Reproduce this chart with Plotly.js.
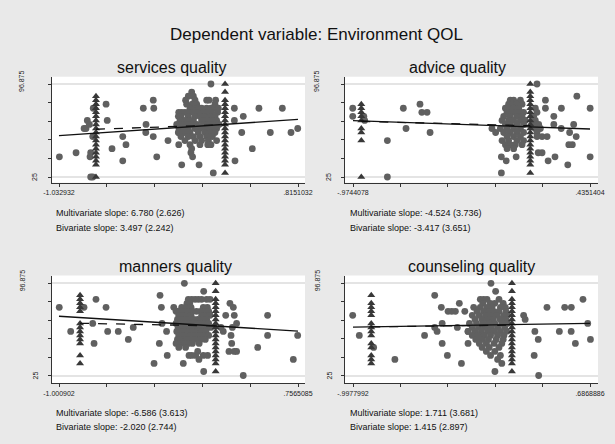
<!DOCTYPE html>
<html><head><meta charset="utf-8">
<script src="https://cdn.plot.ly/plotly-3.0.1.min.js"></script>
<style>html,body{margin:0;padding:0;background:#e9e9e9}</style>
</head><body><div id="chart" style="width:615px;height:444px"></div>
<script>
// ---------------- text ----------------
const mainTitle = 'Dependent variable: Environment QOL';
const panelTitles = ['services quality', 'advice quality', 'manners quality', 'counseling quality'];
const xTickLabels = [['-1.032932', '.8151032'], ['-.9744078', '.4351404'], ['-1.000902', '.7565085'], ['-.9977992', '.6868886']];
const yTickLabels = ['25', '96.875'];
const multiSlopeText = ['Multivariate slope: 6.780 (2.626)', 'Multivariate slope: -4.524 (3.736)', 'Multivariate slope: -6.586 (3.613)', 'Multivariate slope: 1.711 (3.681)'];
const biSlopeText = ['Bivariate slope: 3.497 (2.242)', 'Bivariate slope: -3.417 (3.651)', 'Bivariate slope: -2.020 (2.744)', 'Bivariate slope: 1.415 (2.897)'];

// ---------------- services quality ----------------
const servicesCircX = [-1.030,-0.901,-0.793,-0.788,-0.839,-0.824,-0.814,-0.798,-0.768,-0.772,-0.788,-0.772,-0.669,-0.660,-0.623,-0.540,-0.515,-0.540,-0.381,-0.360,-0.362,-0.304,-0.300,-0.304,-0.277,-0.190,-0.107,-0.107,-0.107,-0.084,0.050,-0.013,0.000,0.160,0.142,0.323,0.392,0.323,0.380,0.328,0.462,0.513,0.601,0.694,0.761,0.813,
  -0.007,
  -0.033,0.006,
  -0.054,0.019,0.109,0.127,0.178,
  -0.046,-0.002,0.032,0.173,
  -0.020,0.024,0.044,0.070,0.109,0.142,0.168,0.199,
  -0.084,-0.059,-0.033,0.006,0.044,0.083,0.122,0.147,0.194,
  -0.110,-0.090,-0.033,0.019,0.057,0.096,0.135,0.173,
  -0.097,-0.059,-0.020,0.006,0.070,0.109,0.147,0.186,
  -0.123,-0.084,-0.046,-0.007,0.032,0.083,0.122,0.160,0.204,
  -0.105,-0.072,-0.033,0.019,0.057,0.101,0.142,0.186,
  -0.110,-0.064,-0.020,0.044,0.096,0.135,0.173,
  -0.090,-0.033,0.006,0.057,0.109,0.153,
  -0.059,0.019,0.070,0.122,0.186,
  -0.020,0.057,0.117,0.142,
  -0.007];
const servicesCircY = [40.625,43.75,40.625,43.75,62.5,62.5,68.75,65.625,78.125,56.25,25,25,81.25,68.75,46.875,56.25,50,37.5,78.125,65.625,59.375,84.375,78.125,56.25,40.625,53.125,75,59.375,50,34.375,34.375,43.75,40.625,28.125,96.875,78.125,71.875,68.75,59.375,37.5,46.875,78.125,59.375,78.125,59.375,62.5,
  90.625,
  87.5,87.5,
  84.375,84.375,84.375,84.375,84.375,
  81.25,81.25,81.25,81.25,
  78.125,78.125,78.125,78.125,78.125,78.125,78.125,78.125,
  75,75,75,75,75,75,75,75,75,
  71.875,71.875,71.875,71.875,71.875,71.875,71.875,71.875,
  68.75,68.75,68.75,68.75,68.75,68.75,68.75,68.75,
  65.625,65.625,65.625,65.625,65.625,65.625,65.625,65.625,65.625,
  62.5,62.5,62.5,62.5,62.5,62.5,62.5,62.5,
  59.375,59.375,59.375,59.375,59.375,59.375,59.375,
  56.25,56.25,56.25,56.25,56.25,56.25,
  53.125,53.125,53.125,53.125,53.125,
  50,50,50,50,
  46.875];
const servicesTriX = [-0.747,-0.747,-0.747,-0.747,-0.747,-0.747,-0.747,-0.747,-0.747,-0.747,-0.747,-0.747,-0.747,-0.747,-0.747,-0.747,-0.747,-0.747,-0.747,
  0.251,0.251,0.251,0.251,0.251,0.251,0.251,0.251,0.251,0.251,0.251,0.251,0.251,0.251,0.251,0.251,0.251,0.251,0.251,0.251];
const servicesTriY = [87.5,84.375,81.25,78.125,75,71.875,68.75,65.625,62.5,59.375,56.25,53.125,50,46.875,43.75,40.625,37.5,34.375,25,
  96.875,90.625,84.375,81.25,78.125,75,71.875,68.75,65.625,62.5,59.375,56.25,53.125,50,46.875,43.75,40.625,37.5,34.375,28.125];
const servicesMultiX = [-1.032932, 0.8151032];
const servicesMultiY = [57.0, 69.5];
const servicesBiX = [-0.747, 0.251];
const servicesBiY = [61.9, 65.4];

// ---------------- advice quality ----------------
const adviceCircX = [-0.976,-0.976,-0.910,-0.905,-0.770,-0.770,-0.675,-0.659,-0.576,-0.565,-0.534,-0.516,0.120,-0.092,-0.063,-0.004,-0.092,-0.148,-0.126,0.170,0.170,0.265,0.357,0.436,0.220,0.220,0.180,0.127,0.150,0.186,0.227,0.264,0.314,0.338,0.353,0.309,0.330,0.303,0.436,
  -0.039,-0.019,0.021,
  -0.049,-0.029,0.001,0.031,
  -0.068,-0.049,-0.019,0.011,0.110,
  -0.058,-0.029,-0.009,0.021,0.040,0.120,
  -0.078,-0.039,0.001,0.031,0.100,
  -0.088,-0.049,-0.019,0.021,0.050,0.110,
  -0.068,-0.039,0.001,0.040,0.100,0.130,
  -0.098,-0.058,-0.019,0.021,0.110,0.140,
  -0.078,-0.039,0.001,0.040,0.120,
  -0.058,-0.019,0.021,0.120,0.150,
  -0.088,-0.049,0.001,0.040,
  -0.068,-0.039,-0.009,0.031,
  -0.058,-0.019];
const adviceCircY = [78.125,71.875,71.875,68.75,53.125,25,78.125,62.5,81.25,75,75,59.375,96.875,40.625,37.5,40.625,28.125,62.5,59.375,84.375,78.125,78.125,87.5,78.125,71.875,65.625,56.25,43.75,43.75,37.5,40.625,62.5,59.375,65.625,56.25,50,50,34.375,40.625,
  84.375,84.375,84.375,
  81.25,81.25,81.25,81.25,
  78.125,78.125,78.125,78.125,78.125,
  75,75,75,75,75,75,
  71.875,71.875,71.875,71.875,71.875,
  68.75,68.75,68.75,68.75,68.75,68.75,
  65.625,65.625,65.625,65.625,65.625,65.625,
  62.5,62.5,62.5,62.5,62.5,62.5,
  59.375,59.375,59.375,59.375,59.375,
  56.25,56.25,56.25,56.25,56.25,
  53.125,53.125,53.125,53.125,
  50,50,50,50,
  46.875,46.875];
const adviceTriX = [-0.925,-0.925,-0.925,-0.925,-0.925,-0.925,-0.925,-0.925,-0.925,
  0.080,0.080,0.080,0.080,0.080,0.080,0.080,0.080,0.080,0.080,0.080,0.080,0.080,0.080,0.080,0.080,0.080,0.080,0.080,0.080,0.080];
const adviceTriY = [81.25,78.125,75,71.875,68.75,62.5,59.375,53.125,25,
  96.875,90.625,87.5,84.375,81.25,78.125,75,71.875,68.75,65.625,62.5,59.375,56.25,53.125,50,46.875,43.75,40.625,37.5,34.375,28.125];
const adviceMultiX = [-0.9744078, 0.4351404];
const adviceMultiY = [68.5, 62.1];
const adviceBiX = [-0.925, 0.080];
const adviceBiY = [68.0, 64.6];

// ---------------- manners quality ----------------
const mannersCircX = [-0.999,-0.915,-0.817,-0.753,-0.743,-0.729,-0.655,-0.643,-0.565,-0.491,-0.455,-0.302,-0.258,-0.248,-0.243,-0.263,-0.210,-0.205,-0.157,-0.131,-0.111,-0.079,0.063,0.063,0.354,-0.087,0.190,0.207,0.225,0.256,0.281,0.288,0.264,0.269,0.249,0.288,0.305,0.274,0.305,0.460,0.533,0.533,0.722,0.754,-0.045,-0.025,0.004,0.019,0.028,0.060,0.092,
  -0.050,-0.025,0.000,0.024,0.048,0.085,0.110,
  -0.060,-0.040,
  -0.099,-0.070,-0.050,-0.030,0.060,0.090,
  -0.140,-0.110,-0.080,-0.050,-0.020,0.010,0.040,0.070,0.100,
  -0.120,-0.090,-0.060,-0.030,0.048,0.080,0.110,
  -0.130,-0.100,-0.070,-0.040,-0.010,0.020,0.050,0.085,
  -0.140,-0.110,-0.080,-0.050,-0.020,0.010,0.040,0.070,0.100,
  -0.125,-0.095,-0.065,-0.035,-0.005,0.025,0.055,0.090,0.115,
  -0.135,-0.105,-0.075,-0.045,-0.015,0.015,0.045,0.080,
  -0.120,-0.090,-0.060,-0.030,0.000,0.035,0.070,0.100,
  -0.130,-0.095,-0.065,-0.035,0.000,0.040,0.075,
  -0.140,-0.110,-0.080,-0.050,-0.020,0.030,
  -0.120,-0.070];
const mannersCircY = [78.125,59.375,78.125,65.625,50,84.375,78.125,59.375,59.375,53.125,62.5,34.375,87.5,78.125,65.625,50,59.375,40.625,78.125,75,50,96.875,90.625,28.125,25,34.375,62.5,59.375,71.875,81.25,78.125,71.875,56.25,50,43.75,43.75,43.75,62.5,65.625,46.875,71.875,56.25,37.5,56.25,40.625,40.625,40.625,43.75,37.5,40.625,40.625,
  84.375,84.375,84.375,84.375,84.375,84.375,84.375,
  81.25,81.25,
  78.125,78.125,78.125,78.125,78.125,78.125,
  75,75,75,75,75,75,75,75,75,
  71.875,71.875,71.875,71.875,71.875,71.875,71.875,
  68.75,68.75,68.75,68.75,68.75,68.75,68.75,68.75,
  65.625,65.625,65.625,65.625,65.625,65.625,65.625,65.625,65.625,
  62.5,62.5,62.5,62.5,62.5,62.5,62.5,62.5,62.5,
  59.375,59.375,59.375,59.375,59.375,59.375,59.375,59.375,
  56.25,56.25,56.25,56.25,56.25,56.25,56.25,56.25,
  53.125,53.125,53.125,53.125,53.125,53.125,53.125,
  50,50,50,50,50,50,
  46.875,46.875];
const mannersTriX = [-0.846,-0.846,-0.846,-0.846,-0.846,-0.846,-0.846,-0.846,-0.846,-0.846,-0.846,-0.846,-0.846,
  0.151,0.151,0.151,0.151,0.151,0.151,0.151,0.151,0.151,0.151,0.151,0.151,0.151,0.151,0.151,0.151,0.151,0.151,0.151,0.151];
const mannersTriY = [87.5,84.375,81.25,78.125,75,65.625,62.5,59.375,56.25,53.125,50,40.625,34.375,
  96.875,90.625,84.375,81.25,78.125,75,71.875,68.75,65.625,62.5,59.375,56.25,53.125,50,46.875,43.75,40.625,37.5,34.375,28.125];
const mannersMultiX = [-1.000902, 0.7565085];
const mannersMultiY = [71.2, 59.6];
const mannersBiX = [-0.846, 0.151];
const mannersBiY = [65.7, 63.7];

// ---------------- counseling quality ----------------
const counselingCircX = [-1.000,-0.953,-0.851,-0.700,-0.489,-0.417,-0.417,-0.400,-0.370,-0.364,-0.364,-0.327,-0.322,-0.296,-0.270,-0.256,-0.242,-0.227,-0.203,-0.180,-0.180,-0.017,0.016,0.011,0.322,0.381,0.507,0.554,0.637,0.671,0.690,0.583,0.469,0.553,0.295,0.319,0.290,0.215,0.226,
  -0.093,-0.069,-0.045,0.040,
  -0.075,-0.022,0.010,0.070,
  -0.140,-0.093,-0.045,-0.010,0.050,0.085,
  -0.116,-0.069,-0.030,0.002,0.040,0.090,
  -0.150,-0.100,-0.055,-0.015,0.026,0.073,0.100,
  -0.130,-0.080,-0.040,0.000,0.049,0.090,
  -0.170,-0.120,-0.075,-0.030,0.010,0.060,0.100,
  -0.150,-0.105,-0.060,-0.015,0.030,0.080,
  -0.180,-0.130,-0.085,-0.040,0.005,0.050,0.095,
  -0.150,-0.110,-0.065,-0.020,0.030,0.075,
  -0.125,-0.080,-0.035,0.020,0.070,
  -0.100,-0.050,0.005,0.060,
  -0.080,-0.030,0.040,
  -0.050,0.010,
  -0.020,0.050,
  0.030,
  0.060];
const counselingCircY = [71.875,56.25,46.875,37.5,56.25,87.5,62.5,59.375,78.125,65.625,50,40.625,75,75,75,62.5,81.25,34.375,75,59.375,50,96.875,90.625,28.125,25,78.125,78.125,78.125,84.375,65.625,53.125,50,59.375,59.375,59.375,53.125,40.625,71.875,68.75,
  84.375,84.375,84.375,84.375,
  81.25,81.25,81.25,81.25,
  78.125,78.125,78.125,78.125,78.125,78.125,
  75,75,75,75,75,75,
  71.875,71.875,71.875,71.875,71.875,71.875,71.875,
  68.75,68.75,68.75,68.75,68.75,68.75,
  65.625,65.625,65.625,65.625,65.625,65.625,65.625,
  62.5,62.5,62.5,62.5,62.5,62.5,
  59.375,59.375,59.375,59.375,59.375,59.375,59.375,
  56.25,56.25,56.25,56.25,56.25,56.25,
  53.125,53.125,53.125,53.125,53.125,
  50,50,50,50,
  46.875,46.875,46.875,
  43.75,43.75,
  40.625,40.625,
  37.5,
  34.375];
const counselingTriX = [-0.868,-0.868,-0.868,-0.868,-0.868,-0.868,-0.868,-0.868,-0.868,-0.868,-0.868,-0.868,-0.868,-0.868,
  0.132,0.132,0.132,0.132,0.132,0.132,0.132,0.132,0.132,0.132,0.132,0.132,0.132,0.132,0.132,0.132,0.132,0.132,0.132,0.132];
const counselingTriY = [87.5,81.25,78.125,75,71.875,65.625,62.5,59.375,56.25,50,46.875,40.625,37.5,34.375,
  96.875,90.625,84.375,81.25,78.125,75,71.875,68.75,65.625,62.5,59.375,56.25,53.125,50,46.875,43.75,40.625,37.5,34.375,28.125];
const counselingMultiX = [-0.9977992, 0.6868886];
const counselingMultiY = [62.7, 65.6];
const counselingBiX = [-0.868, 0.132];
const counselingBiY = [62.9, 64.3];

// ---------------- build ----------------
const W = 615, H = 444;
const FONT = 'Liberation Sans, Arial, Helvetica, sans-serif';
const panels = [
  {cx: servicesCircX, cy: servicesCircY, tx: servicesTriX, ty: servicesTriY, mx: servicesMultiX, my: servicesMultiY, bx: servicesBiX, by: servicesBiY},
  {cx: adviceCircX, cy: adviceCircY, tx: adviceTriX, ty: adviceTriY, mx: adviceMultiX, my: adviceMultiY, bx: adviceBiX, by: adviceBiY},
  {cx: mannersCircX, cy: mannersCircY, tx: mannersTriX, ty: mannersTriY, mx: mannersMultiX, my: mannersMultiY, bx: mannersBiX, by: mannersBiY},
  {cx: counselingCircX, cy: counselingCircY, tx: counselingTriX, ty: counselingTriY, mx: counselingMultiX, my: counselingMultiY, bx: counselingBiX, by: counselingBiY}
];
// layout geometry in pixels: plot boxes [left, right, top, bottom]
const boxes = [[52, 305, 76.7, 182.7], [345, 598, 76.7, 182.7], [52, 305, 275.5, 383.3], [345, 598, 275.5, 383.3]];
const titlePos = [[171, 67.5], [457.5, 67.5], [175, 266.5], [471, 266.5]];
const slopeX = [54, 347.7];
const slopeY = [[212.7, 228.3], [412.7, 426.5]];
const yLabX = [[35, 22], [329, 317]];
const yLabShift = [0, -3]; // pixel shift of label centre relative to tick

const yVals = yTickLabels.map(Number);
const yMinor = [1, 2, 3, 4].map(k => yVals[0] + k * (yVals[1] - yVals[0]) / 5);

const traces = [];
const layout = {
  width: W, height: H, margin: {l: 0, r: 0, t: 0, b: 0},
  paper_bgcolor: '#e9e9e9', plot_bgcolor: '#ffffff', showlegend: false, hovermode: false,
  font: {family: FONT, color: '#111'},
  annotations: [], shapes: []
};
layout.annotations.push({text: mainTitle, xref: 'paper', yref: 'paper', x: 316 / W, y: 1 - 35 / H, xanchor: 'center', yanchor: 'middle', showarrow: false, font: {size: 17, color: '#111', family: FONT}});

panels.forEach((p, i) => {
  const n = i === 0 ? '' : String(i + 1);
  const xa = 'x' + n, ya = 'y' + n;
  const b = boxes[i];
  const xv = xTickLabels[i].map(Number);
  const xMinor = [1, 2, 3, 4].map(k => xv[0] + k * (xv[1] - xv[0]) / 5);
  const tl = (i % 2 === 0) ? 59 : 353, tr = (i % 2 === 0) ? 298 : 590;
  const per = (xv[1] - xv[0]) / (tr - tl);
  const xr = [xv[0] - (tl - b[0]) * per, xv[1] + (b[1] - tr) * per];
  const ty0 = (i < 2) ? 84 : 283.3, ty1 = (i < 2) ? 177 : 375.5;
  const yper = (yVals[1] - yVals[0]) / (ty1 - ty0);
  const yr = [yVals[0] - (b[3] - ty1) * yper, yVals[1] + (ty0 - b[2]) * yper];

  layout['xaxis' + n] = {
    domain: [b[0] / W, b[1] / W], anchor: ya, range: xr,
    tickmode: 'array', tickvals: xv, ticktext: xTickLabels[i],
    ticks: 'outside', ticklen: 3, tickwidth: 1, tickcolor: '#333',
    minor: {tickmode: 'array', tickvals: xMinor, ticks: 'outside', ticklen: 3, tickwidth: 1, tickcolor: '#333', showgrid: false},
    showline: true, linecolor: '#333', linewidth: 1, showgrid: false, zeroline: false,
    tickfont: {size: 7, color: '#222', family: FONT}, fixedrange: true
  };
  layout['yaxis' + n] = {
    domain: [1 - b[3] / H, 1 - b[2] / H], anchor: xa, range: yr,
    tickmode: 'array', tickvals: yVals, ticktext: yTickLabels, showticklabels: false,
    ticks: 'outside', ticklen: 3, tickwidth: 1, tickcolor: '#333',
    minor: {tickmode: 'array', tickvals: yMinor, ticks: 'outside', ticklen: 3, tickwidth: 1, tickcolor: '#333', showgrid: false},
    showline: true, linecolor: '#333', linewidth: 1, showgrid: true, gridcolor: '#e4e4e4', gridwidth: 2, zeroline: false, fixedrange: true
  };

  traces.push({type: 'scatter', mode: 'markers', x: p.cx, y: p.cy, xaxis: xa, yaxis: ya,
    marker: {symbol: 'circle', size: 6.8, color: '#606060', line: {width: 0}}, cliponaxis: false});
  traces.push({type: 'scatter', mode: 'markers', x: p.tx, y: p.ty, xaxis: xa, yaxis: ya,
    marker: {symbol: 'triangle-up', size: 7, color: '#383838', line: {width: 0}}, cliponaxis: false});
  traces.push({type: 'scatter', mode: 'lines', x: p.bx, y: p.by, xaxis: xa, yaxis: ya,
    line: {color: '#111', width: 1.3, dash: 'dash'}});
  traces.push({type: 'scatter', mode: 'lines', x: p.mx, y: p.my, xaxis: xa, yaxis: ya,
    line: {color: '#111', width: 1.3}});

  const tp = titlePos[i];
  layout.annotations.push({text: panelTitles[i], xref: 'paper', yref: 'paper', x: tp[0] / W, y: 1 - tp[1] / H,
    xanchor: 'center', yanchor: 'middle', showarrow: false, font: {size: 16, color: '#111', family: FONT}});
  const sx = slopeX[i % 2], sy = slopeY[i < 2 ? 0 : 1];
  layout.annotations.push({text: multiSlopeText[i], xref: 'paper', yref: 'paper', x: sx / W, y: 1 - sy[0] / H,
    xanchor: 'left', yanchor: 'middle', showarrow: false, font: {size: 9, color: '#111', family: FONT}});
  layout.annotations.push({text: biSlopeText[i], xref: 'paper', yref: 'paper', x: sx / W, y: 1 - sy[1] / H,
    xanchor: 'left', yanchor: 'middle', showarrow: false, font: {size: 9, color: '#111', family: FONT}});
  const lx = yLabX[i % 2];
  yTickLabels.forEach((t, k) => {
    layout.annotations.push({text: t, xref: 'paper', yref: ya, x: lx[k] / W, y: yVals[k], yshift: -yLabShift[k], textangle: -90,
      xanchor: 'center', yanchor: 'middle', showarrow: false, font: {size: 7, color: '#222', family: FONT}});
  });
});

Plotly.newPlot('chart', traces, layout, {staticPlot: true, displayModeBar: false});
</script>
</body></html>
